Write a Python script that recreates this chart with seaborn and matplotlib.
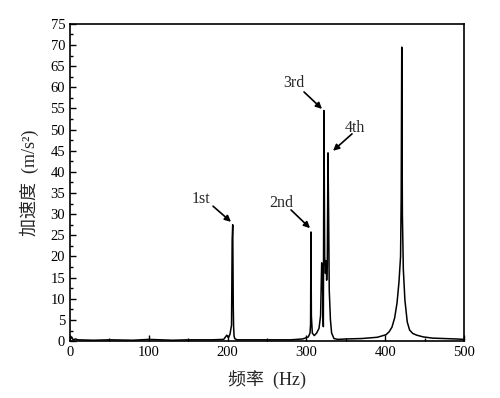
import matplotlib
matplotlib.use("Agg")
import matplotlib.pyplot as plt
import seaborn as sns
from matplotlib.ticker import MultipleLocator

sns.set_style("ticks")
plt.rcParams['font.family'] = ['Liberation Serif', 'Noto Sans CJK SC']

# spectrum points (Hz, m/s^2)
freq = [0, 2, 4, 7, 10, 30, 50, 80, 100, 130, 150, 180, 195, 199, 201, 203, 205, 205.8, 206.5, 207.2, 207.6, 208.2, 209, 212,
        230, 260, 280, 295, 300, 302.5, 304.6, 305.3, 305.8, 306.3, 307.5, 310, 313, 316, 318, 319.4, 320.3, 321, 321.5,
        322.3, 323.2, 324.2, 325, 325.7, 326.5, 327.4, 328.2, 329, 330.5, 332, 335, 340, 350, 370, 390, 401, 405, 408.6,
        412, 415, 417.5, 419.5, 420.3, 421, 421.8, 423, 425, 428, 431, 435, 440, 448, 460, 475, 490, 500]
amp = [0.4, 1.0, 0.3, 0.5, 0.3, 0.2, 0.3, 0.2, 0.4, 0.2, 0.3, 0.3, 0.4, 1.4, 0.8, 1.6, 3.8, 24.0, 27.5, 8.0, 3.5, 1.2, 0.6, 0.3,
       0.3, 0.3, 0.3, 0.5, 0.8, 1.0, 1.9, 4.0, 25.8, 6.0, 1.9, 1.3, 1.9, 3.0, 6.0, 18.5, 17.0, 8.0, 3.4,
       54.5, 20.0, 16.0, 19.0, 14.4, 18.0, 44.5, 30.0, 12.0, 5.0, 1.9, 0.6, 0.4, 0.5, 0.6, 0.9, 1.5, 2.2, 3.3,
       5.5, 9.0, 14.0, 20.0, 34.0, 69.5, 30.0, 17.0, 9.7, 4.5, 2.6, 1.8, 1.4, 1.0, 0.7, 0.6, 0.5, 0.4]

peak_labels = ['1st', '2nd', '3rd', '4th']
label_xy = [(166, 33.6), (267.8, 32.6), (284, 61.0), (361.7, 50.4)]
arrow_from = [(181.5, 31.9), (280.5, 31.0), (297, 58.9), (357.9, 49.0)]
arrow_to = [(204.3, 28.2), (304.6, 26.7), (319.8, 54.9), (333.8, 45.0)]

fig = plt.figure(figsize=(5, 3.98), dpi=100)
ax = fig.add_axes([0.14, 0.143, 0.788, 0.797])

sns.lineplot(x=freq, y=amp, color='black', lw=1.1, estimator=None, ax=ax)

for lab, txy, a0, a1 in zip(peak_labels, label_xy, arrow_from, arrow_to):
    ax.text(txy[0], txy[1], lab, fontsize=11.5, ha='center', va='center')
    ax.annotate('', xy=a1, xytext=a0,
                arrowprops=dict(arrowstyle='-|>', color='black', lw=1.2, mutation_scale=9,
                                shrinkA=0, shrinkB=0))

ax.set_xlim(0, 500)
ax.set_ylim(0, 75)
ax.xaxis.set_major_locator(MultipleLocator(100))
ax.xaxis.set_minor_locator(MultipleLocator(50))
ax.yaxis.set_major_locator(MultipleLocator(5))
ax.yaxis.set_minor_locator(MultipleLocator(2.5))
ax.tick_params(which='both', direction='in', top=False, right=False, labelsize=10.5, colors='black')
ax.tick_params(which='major', length=4, width=1)
ax.tick_params(which='minor', length=2.5, width=1)
for s in ax.spines.values():
    s.set_linewidth(1.2)
    s.set_color('black')

ax.set_xlabel('频率  (Hz)', fontsize=13, labelpad=8)
ax.set_ylabel('加速度  (m/s²)', fontsize=13, labelpad=8)

fig.savefig('out.png', dpi=100)
